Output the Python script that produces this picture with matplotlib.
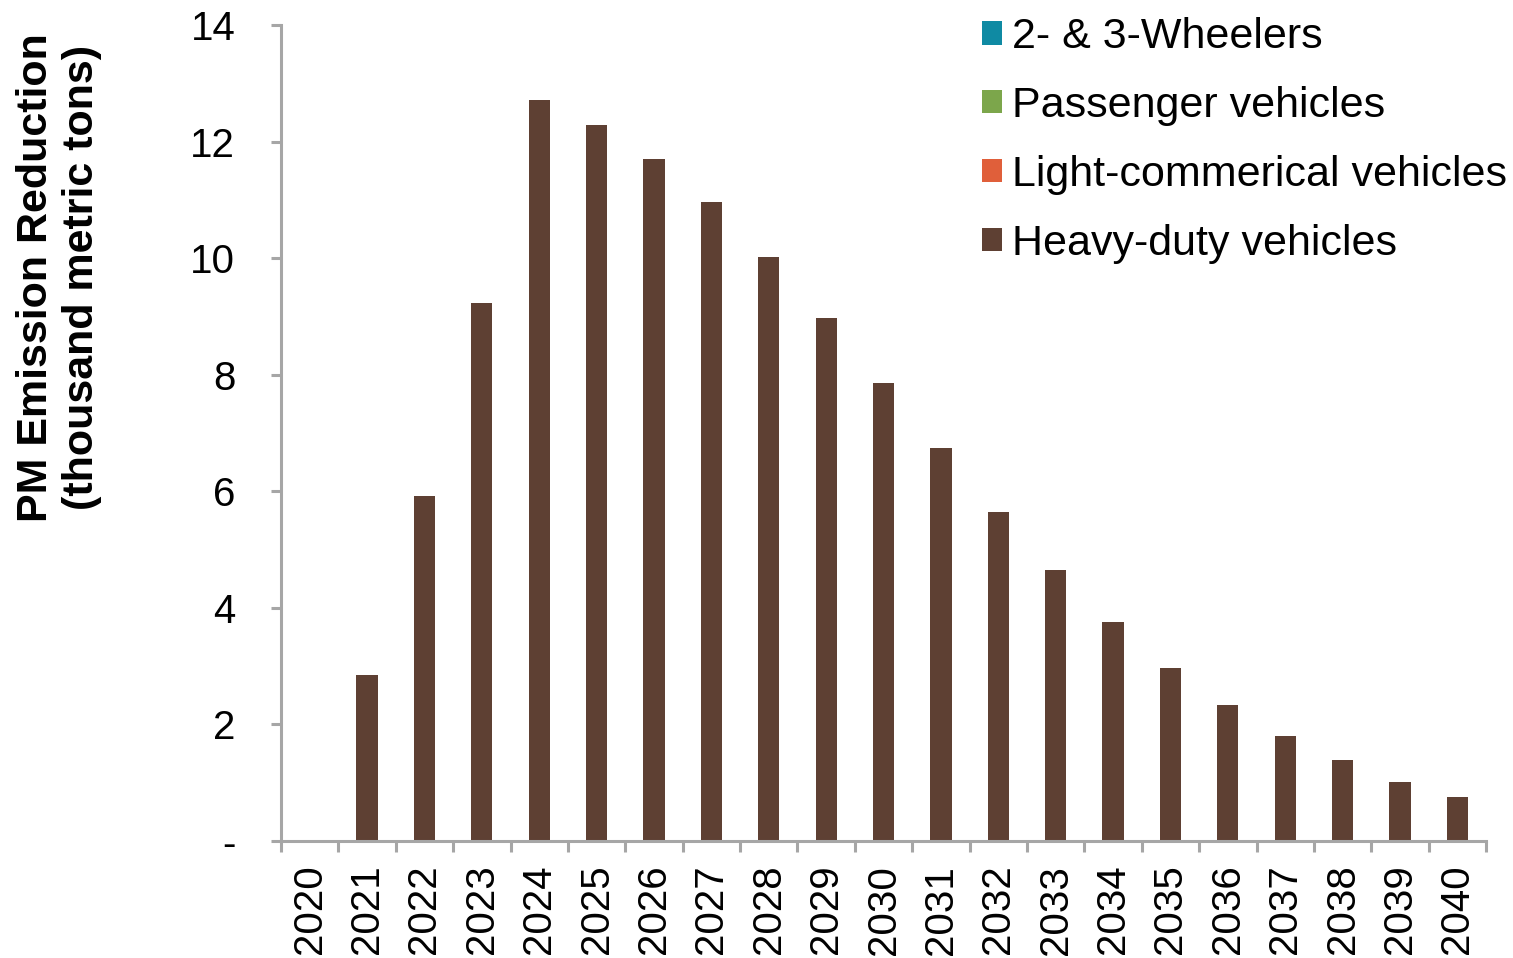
import matplotlib
matplotlib.use("Agg")
import matplotlib.pyplot as plt
import numpy as np

plt.rcParams['font.family'] = ['Liberation Sans', 'DejaVu Sans']

years = [str(y) for y in range(2020, 2041)]
two_three_wheelers = [0] * 21
passenger_vehicles = [0] * 21
light_commercial = [0] * 21
heavy_duty = [0.0, 2.85, 5.92, 9.23, 12.71, 12.28, 11.70, 10.96, 10.02, 8.97,
              7.86, 6.74, 5.64, 4.65, 3.76, 2.97, 2.33, 1.80, 1.39, 1.01, 0.75]

series_names = ["2- & 3-Wheelers", "Passenger vehicles",
                "Light-commerical vehicles", "Heavy-duty vehicles"]
series_colors = ["#0f8aa3", "#7ca64b", "#e05f3a", "#5e4033"]
series_values = [two_three_wheelers, passenger_vehicles, light_commercial, heavy_duty]

y_ticks = [0, 2, 4, 6, 8, 10, 12, 14]
y_tick_labels = ["-", "2", "4", "6", "8", "10", "12", "14"]

fig = plt.figure(figsize=(15.13, 9.58), dpi=100)
ax = fig.add_axes([0.1857, 0.1221, 0.7965, 0.8518])

x = np.arange(len(years))
bottom = np.zeros(len(years))
handles = []
for name, color, vals in zip(series_names, series_colors, series_values):
    vals = np.asarray(vals, dtype=float)
    b = ax.bar(x, vals, width=0.37, bottom=bottom, color=color, label=name,
               linewidth=0)
    handles.append(b)
    bottom += vals

axis_gray = "#a6a6a6"
ax.set_xlim(-0.5, len(years) - 0.5)
ax.set_ylim(0, 14)
for side in ["top", "right"]:
    ax.spines[side].set_visible(False)
for side in ["left", "bottom"]:
    ax.spines[side].set_color(axis_gray)
    ax.spines[side].set_linewidth(2.2)

ax.set_yticks(y_ticks)
ax.set_yticklabels(y_tick_labels, fontsize=29)
ax.tick_params(axis="y", direction="out", length=7, width=2.2, color=axis_gray, pad=26)

ax.set_xticks(x)
ax.set_xticklabels(years, rotation=90, fontsize=29)
ax.set_xticks(np.arange(-0.5, len(years)), minor=True)
ax.tick_params(axis="x", which="major", length=0, pad=17)
ax.tick_params(axis="x", which="minor", direction="out", length=8, width=2.2, color=axis_gray)

fig.text(0.039, 0.71, "PM Emission Reduction\n(thousand metric tons)",
         rotation=90, ha="center", va="center", fontsize=31, fontweight="bold",
         multialignment="center", linespacing=1.2)

leg = fig.legend(handles=handles, labels=series_names, loc="upper left",
                 bbox_to_anchor=(0.649, 0.982), frameon=False, fontsize=31,
                 handlelength=0.46, handleheight=0.46, handletextpad=0.23,
                 labelspacing=0.67, borderpad=0, borderaxespad=0)

fig.savefig("out.png", dpi=100)
